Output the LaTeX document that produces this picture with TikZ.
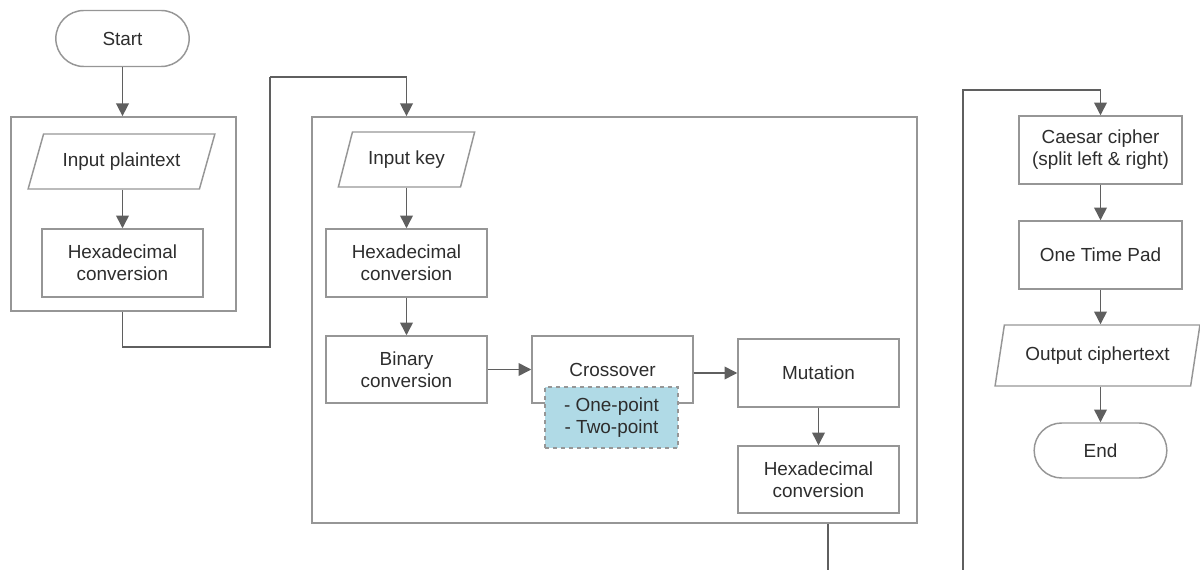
\documentclass[tikz,border=0pt]{standalone}
\usepackage{fontspec}
\setmainfont{Liberation Sans}
\usetikzlibrary{arrows.meta,shapes.geometric,shapes.misc}
\definecolor{boxline}{RGB}{150,150,150}
\definecolor{flowline}{RGB}{95,95,95}
\definecolor{txt}{RGB}{45,45,45}
\definecolor{optfill}{RGB}{176,218,230}
\tikzset{
  base/.style={draw=boxline, line width=1.1pt, text=txt, align=center,
    font=\fontsize{14.2}{16.5}\selectfont, inner sep=2pt},
  proc/.style={base, rectangle, minimum width=120.75pt, minimum height=51pt},
  term/.style={base, rounded rectangle, minimum width=104pt, minimum height=42pt},
  io/.style={base, trapezium, trapezium left angle=#1, trapezium right angle={180-#1},
    trapezium stretches=true, minimum height=41.25pt},
  group/.style={draw=boxline, line width=1.3pt, rectangle, inner sep=0pt},
  opts/.style={base, draw=boxline, dashed, fill=optfill, line width=0.8pt,
    minimum width=99.75pt, minimum height=45.75pt},
  flow/.style={draw=flowline, line width=1.1pt},
  arr/.style={flow, -{Triangle[length=9.5pt,width=9.5pt]}},
}
\begin{document}
\begin{tikzpicture}[x=0.75pt, y=-0.75pt]
\useasboundingbox (0,0) rectangle (1200,570);

% first stage: read the plaintext
\node[term] (start) at (122.5,38.5) {Start};
\node[group, minimum width=168.75pt, minimum height=145.5pt] (g1) at (123.5,214) {};
\node[io=62, minimum width=140.25pt] (plain) at (121.5,161.5) {Input plaintext};
\node[proc] (hex1) at (122.5,263) {Hexadecimal\\conversion};

% second stage: key generation by a genetic algorithm
\node[group, minimum width=453.75pt, minimum height=304.5pt] (g2) at (614.5,320) {};
\node[io=65, minimum width=102.75pt] (key) at (406.5,159.5) {Input key};
\node[proc] (hex2) at (406.5,263) {Hexadecimal\\conversion};
\node[proc, minimum height=50.25pt] (bin) at (406.5,369.5) {Binary\\conversion};
\node[proc, minimum height=50.25pt] (cross) at (612.5,369.5) {Crossover};
\node[opts] (xopts) at (611.5,417.5) {- One-point\\- Two-point};
\node[proc] (mut) at (818.5,373) {Mutation};
\node[proc, minimum height=50.25pt] (hex3) at (818.5,479.5) {Hexadecimal\\conversion};

% third stage: encryption
\node[proc, minimum width=122.25pt] (caesar) at (1100.5,150) {Caesar cipher\\(split left \& right)};
\node[proc, minimum width=122.25pt] (otp) at (1100.5,255) {One Time Pad};
\node[io=72, minimum width=153.75pt, minimum height=45.75pt] (outc) at (1097.5,355.5) {Output ciphertext};
\node[term, minimum width=103.5pt, minimum height=41.25pt] (end) at (1100.5,450.5) {End};

% bends and loose ends of the connectors
\coordinate (k1) at (270,347);
\coordinate (k2) at (270,77);
\coordinate (out1) at (828,570);
\coordinate (in1) at (963,570);
\coordinate (k4) at (963,90);

\draw[arr] (start.south) -- (start.south |- g1.north);
\draw[arr] (plain.south -| start) -- (start |- hex1.north);
\draw[flow] (g1.south -| start) |- (k1) -- (k2);
\draw[arr] (k2) -| (hex2 |- g2.north);
\draw[arr] (key.south -| hex2) -- (hex2.north);
\draw[arr] (hex2) -- (bin);
\draw[arr] (bin) -- (cross);
\draw[arr] (mut.west -| cross.east) -- (mut.west);
\draw[arr] (mut) -- (hex3);
\draw[flow] (out1 |- g2.south) -- (out1);
\draw[arr] (in1) -- (k4) -| (caesar.north);
\draw[arr] (caesar) -- (otp);
\draw[arr] (otp.south) -- (otp.south |- outc.north);
\draw[arr] (outc.south -| otp) -- (end.north);
\end{tikzpicture}
\end{document}
